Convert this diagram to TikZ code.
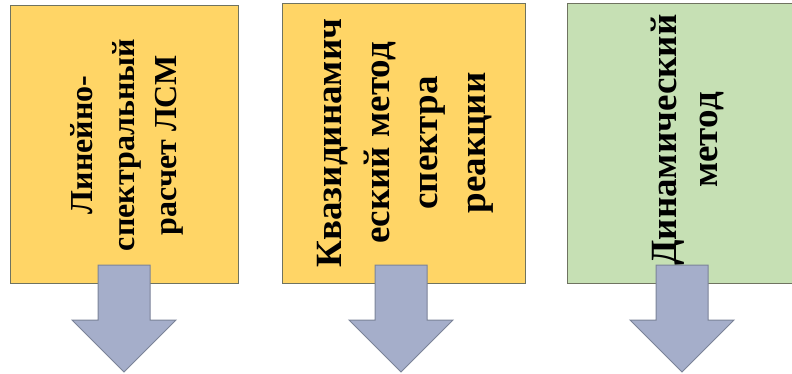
\documentclass[tikz,border=0pt]{standalone}
\usepackage{fontspec}
\setmainfont{Liberation Serif}
\usetikzlibrary{positioning,calc}
\usepackage{xcolor}

\definecolor{boxyellow}{HTML}{FFD566}
\definecolor{boxgreen}{HTML}{C6E0B4}
\definecolor{boxline}{HTML}{6F7360}
\definecolor{arrowfill}{HTML}{A5AECA}
\definecolor{arrowline}{HTML}{7B8398}

\begin{document}
\begin{tikzpicture}[x=1pt, y=-1pt,
    methodbox/.style={draw=boxline, line width=1.2pt, anchor=north west, inner sep=0pt},
    methodtext/.style={rotate=90, align=center, inner sep=0pt,
        font=\fontsize{32}{42}\selectfont\bfseries},
    blockarrow/.style={draw=arrowline, fill=arrowfill, line width=1pt}]
    \useasboundingbox (0,0) rectangle (792,374);
    \clip (0,0) rectangle (792,374);

    % Method boxes
    \node[methodbox, fill=boxyellow, minimum width=228pt, minimum height=278pt] (lsm) at (10,5) {};
    \node[methodbox, fill=boxyellow, minimum width=243pt, minimum height=280pt] (quasi) at (282,3) {};
    \node[methodbox, fill=boxgreen, minimum width=235pt, minimum height=280pt] (dyn) at (567,3) {};

    % Vertical labels
    \node[methodtext] (lsmtext) at (127,145) {Линейно-\\спектральный\\расчет ЛСМ};
    \node[methodtext, font=\fontsize{37}{48}\selectfont\bfseries] (quasitext) at (405,143) {Квазидинамич\\еский метод\\спектра\\реакции};
    \node[methodtext, font=\fontsize{37}{41}\selectfont\bfseries] (dyntext) at (687,140) {Динамический\\метод};

    % Block arrows under the boxes
    \coordinate (lsmarrow) at (124,265);
    \coordinate (quasiarrow) at (401,265);
    \coordinate (dynarrow) at (682,265);
    \foreach \name in {lsmarrow, quasiarrow, dynarrow}
        \draw[blockarrow] (\name) ++(-26,0) -- ++(52,0) -- ++(0,55) -- ++(26,0)
            -- ++(-52,52) -- ++(-52,-52) -- ++(26,0) -- cycle;
\end{tikzpicture}
\end{document}
